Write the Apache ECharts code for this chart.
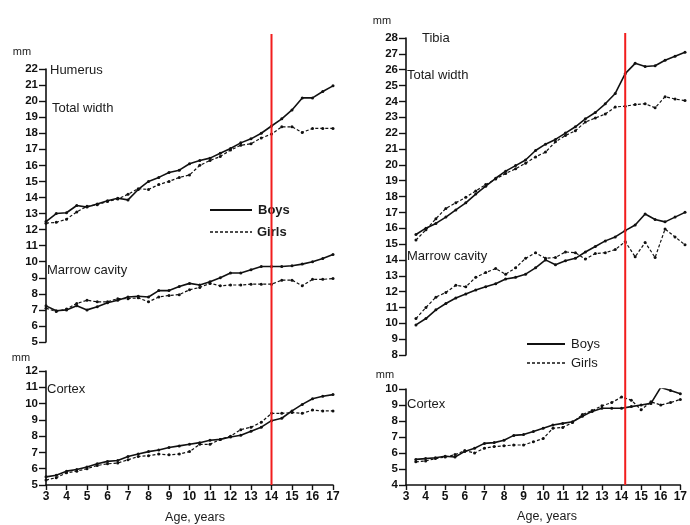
<!DOCTYPE html>
<html><head><meta charset="utf-8">
<script src="https://cdn.jsdelivr.net/npm/echarts@6/dist/echarts.min.js"></script>
<style>html,body{margin:0;padding:0;background:#fff}#c{width:690px;height:525px}</style>
</head><body><div id="c"></div>
<script>
// ---- Data ----
const agesHumerus = [3,3.5,4,4.5,5,5.5,6,6.5,7,7.5,8,8.5,9,9.5,10,10.5,11,11.5,12,12.5,13,13.5,14,14.5,15,15.5,16,16.5,17];
const agesTibia = [3.5,4,4.5,5,5.5,6,6.5,7,7.5,8,8.5,9,9.5,10,10.5,11,11.5,12,12.5,13,13.5,14,14.5,15,15.5,16,16.5,17];

// Humerus (left panel)
const humWidthBoys  = [12.5,13.0,13.05,13.5,13.4,13.6,13.8,13.95,13.85,14.5,15.0,15.25,15.55,15.7,16.1,16.3,16.45,16.75,17.05,17.4,17.65,18.0,18.45,18.9,19.45,20.2,20.2,20.6,20.95];
const humWidthGirls = [12.4,12.45,12.65,13.1,13.45,13.55,13.75,13.9,14.2,14.55,14.5,14.8,15.0,15.25,15.4,16.0,16.3,16.55,16.95,17.25,17.35,17.7,17.95,18.4,18.4,18.05,18.3,18.3,18.3];
const humMarrowBoys  = [7.25,6.95,7.0,7.25,7.0,7.2,7.45,7.6,7.8,7.85,7.8,8.2,8.2,8.45,8.65,8.55,8.75,9.0,9.3,9.3,9.5,9.7,9.7,9.7,9.75,9.85,10.0,10.2,10.45];
const humMarrowGirls = [7.1,6.9,7.05,7.4,7.6,7.5,7.5,7.7,7.7,7.75,7.5,7.8,7.9,7.95,8.25,8.4,8.65,8.5,8.55,8.55,8.6,8.6,8.6,8.85,8.85,8.5,8.9,8.9,8.95];
const humCortexBoys  = [5.5,5.6,5.85,5.95,6.1,6.3,6.45,6.5,6.75,6.9,7.05,7.15,7.3,7.4,7.5,7.6,7.75,7.8,7.95,8.05,8.3,8.55,8.95,9.1,9.55,9.95,10.3,10.45,10.55];
const humCortexGirls = [5.3,5.45,5.75,5.85,6.0,6.2,6.3,6.35,6.55,6.75,6.8,6.9,6.85,6.9,7.05,7.5,7.5,7.8,8.0,8.4,8.55,8.85,9.4,9.4,9.45,9.4,9.6,9.55,9.55];

// Tibia (right panel)
const tibWidthBoys  = [15.6,16.0,16.3,16.7,17.15,17.6,18.15,18.65,19.15,19.6,19.95,20.3,20.9,21.3,21.6,22.0,22.4,22.9,23.3,23.85,24.5,25.75,26.4,26.2,26.25,26.6,26.85,27.1];
const tibWidthGirls = [15.25,15.9,16.6,17.25,17.6,17.95,18.35,18.75,19.1,19.45,19.75,20.1,20.5,20.8,21.45,21.85,22.15,22.7,22.95,23.2,23.65,23.7,23.8,23.85,23.6,24.3,24.15,24.05];
const tibMarrowBoys  = [9.9,10.3,10.85,11.25,11.6,11.85,12.1,12.3,12.5,12.8,12.9,13.1,13.5,14.0,13.7,13.95,14.1,14.5,14.85,15.2,15.45,15.85,16.2,16.9,16.55,16.4,16.7,17.0];
const tibMarrowGirls = [10.3,11.0,11.65,11.95,12.4,12.3,12.9,13.2,13.45,13.1,13.5,14.1,14.45,14.1,14.15,14.5,14.45,14.05,14.4,14.45,14.65,15.15,14.2,15.1,14.15,15.95,15.45,14.95];
const tibCortexBoys  = [5.6,5.65,5.7,5.8,5.75,6.1,6.3,6.6,6.65,6.8,7.1,7.15,7.35,7.55,7.75,7.85,7.95,8.3,8.6,8.8,8.8,8.8,8.9,9.0,9.1,10.1,9.9,9.7];
const tibCortexGirls = [5.45,5.5,5.65,5.75,5.9,6.15,6.0,6.3,6.4,6.45,6.5,6.5,6.7,6.9,7.55,7.6,7.9,8.4,8.65,8.95,9.15,9.5,9.3,8.7,9.2,9.0,9.15,9.35];

const xTicks = [3,17];      // age axis range
const markAge = [14];        // red reference line

// ---- Chart ----
const FONT = "'Liberation Sans', Arial, sans-serif";
const INK = '#111';
const pairs = (xs, ys) => xs.map((x, i) => [x, ys[i]]);

function lineSeries(name, xi, yi, xs, ys, dashed) {
  return {
    name, type: 'line', xAxisIndex: xi, yAxisIndex: yi,
    data: pairs(xs, ys),
    symbol: 'circle', symbolSize: 3, showAllSymbol: true,
    itemStyle: { color: INK },
    lineStyle: { color: INK, width: dashed ? 1.2 : 1.6, type: dashed ? [3, 2] : 'solid' },
    silent: true
  };
}

function yAx(gi, min, max, show) {
  return {
    gridIndex: gi, type: 'value', min, max, interval: 1, position: 'left', offset: show ? 11 : 0,
    show: show !== false,
    axisLine: { show: true, lineStyle: { color: INK, width: 1.6 } },
    axisTick: { show: true, length: 7, lineStyle: { color: INK, width: 1.4 } },
    axisLabel: { color: INK, fontSize: 11.5, fontFamily: FONT, margin: 8, fontWeight: 'bold' },
    splitLine: { show: false }
  };
}
function xAx(gi, show) {
  return {
    gridIndex: gi, type: 'value', min: xTicks[0], max: xTicks[1], interval: 1,
    show,
    axisLine: { show: true, onZero: false, lineStyle: { color: INK, width: 1.6 } },
    axisTick: { show: true, length: 5, lineStyle: { color: INK, width: 1.4 } },
    axisLabel: { color: INK, fontSize: 12, fontFamily: FONT, margin: 6, fontWeight: 'bold' },
    splitLine: { show: false }
  };
}

const txt = (x, y, s, size, align, bold) => ({
  type: 'text', x, y,
  style: { text: s, fill: '#1a1a1a', font: (bold ? 'bold ' : '') + (size || 13) + 'px ' + FONT, textAlign: align || 'left', textVerticalAlign: 'middle' },
  silent: true
});
const seg = (x1, x2, y, dashed) => ({
  type: 'line', shape: { x1, y1: y, x2, y2: y },
  style: { stroke: INK, lineWidth: dashed ? 1.3 : 1.8, lineDash: dashed ? [3, 2] : null },
  silent: true
});

const chart = echarts.init(document.getElementById('c'), null, { renderer: 'canvas' });
chart.setOption({
  animation: false,
  backgroundColor: '#fff',
  grid: [
    { left: 46, top: 69, width: 287, height: 273 },
    { left: 46, top: 371, width: 287, height: 114 },
    { left: 406, top: 38, width: 279, height: 317 },
    { left: 406, top: 389, width: 279, height: 96 },
    { left: 46, top: 34, width: 287, height: 451 },
    { left: 406, top: 33, width: 279, height: 452 }
  ],
  xAxis: [xAx(0, false), xAx(1, true), xAx(2, false), xAx(3, true), xAx(4, false), xAx(5, false)],
  yAxis: [
    yAx(0, 5, 22), yAx(1, 5, 12), yAx(2, 8, 28), yAx(3, 4, 10),
    { gridIndex: 4, type: 'value', min: 0, max: 1, show: false },
    { gridIndex: 5, type: 'value', min: 0, max: 1, show: false }
  ],
  series: [
    lineSeries('Boys', 0, 0, agesHumerus, humWidthBoys, false),
    lineSeries('Girls', 0, 0, agesHumerus, humWidthGirls, true),
    lineSeries('Boys', 0, 0, agesHumerus, humMarrowBoys, false),
    lineSeries('Girls', 0, 0, agesHumerus, humMarrowGirls, true),
    lineSeries('Boys', 1, 1, agesHumerus, humCortexBoys, false),
    lineSeries('Girls', 1, 1, agesHumerus, humCortexGirls, true),
    lineSeries('Boys', 2, 2, agesTibia, tibWidthBoys, false),
    lineSeries('Girls', 2, 2, agesTibia, tibWidthGirls, true),
    lineSeries('Boys', 2, 2, agesTibia, tibMarrowBoys, false),
    lineSeries('Girls', 2, 2, agesTibia, tibMarrowGirls, true),
    lineSeries('Boys', 3, 3, agesTibia, tibCortexBoys, false),
    lineSeries('Girls', 3, 3, agesTibia, tibCortexGirls, true),
    { type: 'line', xAxisIndex: 4, yAxisIndex: 4, data: [[markAge[0], 0], [markAge[0], 1]], symbol: 'none', z: 10, silent: true,
      lineStyle: { color: '#f21d1d', width: 2 } },
    { type: 'line', xAxisIndex: 5, yAxisIndex: 5, data: [[markAge[0], 0], [markAge[0], 1]], symbol: 'none', z: 10, silent: true,
      lineStyle: { color: '#f21d1d', width: 2 } }
  ],
  graphic: [
    // left panel texts
    txt(22, 52, 'mm', 11, 'center'),
    txt(50, 70, 'Humerus'),
    txt(52, 108, 'Total width'),
    txt(47, 270, 'Marrow cavity'),
    txt(21, 358, 'mm', 11, 'center'),
    txt(47, 389, 'Cortex'),
    txt(195, 518, 'Age, years', 12.5, 'center'),
    seg(210, 252, 210, false), txt(258, 210, 'Boys', 13, 'left', true),
    seg(210, 252, 232, true), txt(257, 232, 'Girls', 13, 'left', true),
    // right panel texts
    txt(382, 21, 'mm', 11, 'center'),
    txt(422, 38, 'Tibia'),
    txt(407, 75, 'Total width'),
    txt(407, 256, 'Marrow cavity'),
    txt(385, 375, 'mm', 11, 'center'),
    txt(407, 404, 'Cortex'),
    txt(547, 517, 'Age, years', 12.5, 'center'),
    seg(527, 565, 344, false), txt(571, 344, 'Boys', 13),
    seg(527, 565, 363, true), txt(571, 363, 'Girls', 13)
  ]
});
</script></body></html>
